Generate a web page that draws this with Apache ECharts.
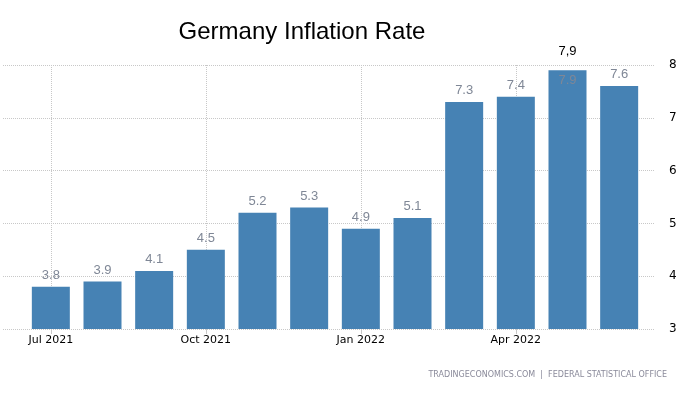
<!DOCTYPE html>
<html><head><meta charset="utf-8">
<script src="https://cdn.jsdelivr.net/npm/echarts@6/dist/echarts.min.js"></script>
<style>html,body{margin:0;padding:0;background:#fff}#c{width:689px;height:395px}</style>
</head><body><div id="c"></div>
<script>
var categories = ['Jul 2021','Aug 2021','Sep 2021','Oct 2021','Nov 2021','Dec 2021','Jan 2022','Feb 2022','Mar 2022','Apr 2022','May 2022','Jun 2022'];
var inflation = [3.8, 3.9, 4.1, 4.5, 5.2, 5.3, 4.9, 5.1, 7.3, 7.4, 7.9, 7.6];
var highlightIndex = 10;
var highlightText = '7,9';
var yTicks = [3, 4, 5, 6, 7, 8];
var titleText = 'Germany Inflation Rate';
var sourceText = 'TRADINGECONOMICS.COM  |  FEDERAL STATISTICAL OFFICE';

var chart = echarts.init(document.getElementById('c'), null, {renderer: 'canvas'});
var barData = inflation.map(function (v, i) {
  if (i === highlightIndex) {
    return {value: v, label: {position: 'insideTop', distance: 4, color: '#7f8796'}};
  }
  return v;
});
var dotted = {color: '#c8c8c8', type: 'dotted', width: 1};
chart.setOption({
  animation: false,
  title: [
    {text: titleText, left: 297, textAlign: 'center', top: 15,
     textStyle: {fontFamily: 'Liberation Sans', fontSize: 24, fontWeight: 'normal', color: '#000'}},
    {text: sourceText, right: 17, top: 366,
     textStyle: {fontFamily: 'DejaVu Sans', fontSize: 8, fontWeight: 'normal', color: '#8a8a9a'}}
  ],
  grid: [
    {left: 25, right: 44, top: 65, bottom: 66},
    {left: 3, right: 34, top: 65, bottom: 66}
  ],
  xAxis: [
    {type: 'category', gridIndex: 0, data: categories,
     axisLine: {show: false},
     axisTick: {show: true, alignWithLabel: true, interval: 2, length: 5, lineStyle: {color: '#c8c8c8'}},
     axisLabel: {interval: 2, margin: 6, color: '#000', fontFamily: 'DejaVu Sans', fontSize: 11},
     splitLine: {show: true, interval: 2, alignWithLabel: true, lineStyle: dotted}},
    {type: 'value', gridIndex: 1, show: false, min: 0, max: 1}
  ],
  yAxis: [
    {type: 'value', gridIndex: 0, min: yTicks[0], max: yTicks[yTicks.length - 1], interval: 1, show: false},
    {type: 'value', gridIndex: 1, position: 'right', min: yTicks[0], max: yTicks[yTicks.length - 1], interval: 1,
     axisLine: {show: false}, axisTick: {show: false},
     axisLabel: {margin: 14, color: '#000', fontFamily: 'DejaVu Sans', fontSize: 12},
     splitLine: {show: true, lineStyle: dotted}}
  ],
  series: [{
    type: 'bar', xAxisIndex: 0, yAxisIndex: 0,
    data: barData, barWidth: 38,
    itemStyle: {color: '#4682b4'},
    label: {show: true, position: 'top', distance: 5, color: '#7f8796',
            fontFamily: 'Liberation Sans', fontSize: 13,
            formatter: function (p) { return p.value.toFixed(1); }},
    markPoint: {
      symbol: 'circle', symbolSize: 0,
      data: [{coord: [highlightIndex, inflation[highlightIndex]], value: highlightText}],
      label: {show: true, position: 'top', distance: 12, color: '#000',
              fontFamily: 'Liberation Sans', fontSize: 13, formatter: highlightText}
    }
  }]
});
</script></body></html>
